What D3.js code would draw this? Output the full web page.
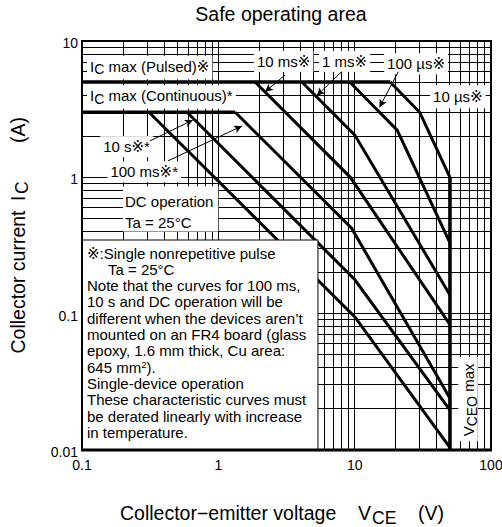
<!DOCTYPE html>
<html>
<head>
<meta charset="utf-8">
<script src="https://cdn.jsdelivr.net/npm/d3@7"></script>
<style>
  body { margin: 0; background: #fff; }
  svg { font-family: "Liberation Sans", Arial, "DejaVu Sans", sans-serif; }
</style>
</head>
<body>
<script>
// ---- data (V in volts, I in amps) ----
var xTicks = [0.1, 1, 10, 100],
    xTickLabels = ["0.1", "1", "10", "100"];
var yTicks = [0.01, 0.1, 1, 10],
    yTickLabels = ["0.01", "0.1", "1", "10"];

var icPulsed = [[0.1, 5], [18.2, 5]];
var icContinuous = [[0.1, 3], [1.33, 3]];
var vceoMax = [[50, 1], [50, 0.01]];

var curveDC    = [[0.31, 3], [10, 0.095], [50, 0.0104]];
var curve10s   = [[0.59, 3], [10, 0.178], [50, 0.0196]];
var curve100ms = [[1.33, 3], [9.5, 0.423], [50, 0.024]];
var curve10ms  = [[1.86, 5], [9.3, 1.0], [50, 0.083]];
var curve1ms   = [[4.1, 5], [10, 2.05], [50, 0.137]];
var curve100us = [[9.2, 5], [20.5, 2.22], [50, 0.33]];
var curve10us  = [[18.2, 5], [30, 3], [50, 1]];
var curves = [curveDC, curve10s, curve100ms, curve10ms, curve1ms, curve100us, curve10us];

// annotation arrows: [from, to] in data units
var arrows = [
  [[0.315, 1.85], [0.65, 2.63]],   // 10 s
  [[0.427, 1.32], [1.49, 2.38]],   // 100 ms
  [[3.08, 5.63], [2.2, 4.23]],     // 10 ms
  [[8.03, 5.95], [5.27, 3.97]],    // 1 ms
  [[20.9, 5.95], [15.2, 3.26]]     // 100 us
];

var noteLines = [
  "※:Single nonrepetitive pulse",
  "Ta = 25°C",
  "Note that the curves for 100 ms,",
  "10 s and DC operation will be",
  "different when the devices aren\u2019t",
  "mounted on an FR4 board (glass",
  "epoxy, 1.6 mm thick, Cu area:",
  "645 mm",
  "Single-device operation",
  "These characteristic curves must",
  "be derated linearly with increase",
  "in temperature."
];

// ---- frame ----
var width = 502, height = 527;
var plotL = 82, plotT = 41, plotR = 491, plotB = 450;

var svg = d3.select("body").append("svg")
    .attr("width", width)
    .attr("height", height);

var x = d3.scaleLog().domain([0.1, 100]).range([plotL, plotR]);
var y = d3.scaleLog().domain([0.01, 10]).range([plotB, plotT]);

var line = d3.line()
    .x(function(d){ return x(d[0]); })
    .y(function(d){ return y(d[1]); });

// grid
var grid = svg.append("g").attr("shape-rendering", "crispEdges");
grid.selectAll(".gx").data(x.ticks()).enter().append("line")
    .attr("x1", function(d){ return x(d); }).attr("x2", function(d){ return x(d); })
    .attr("y1", plotT).attr("y2", plotB)
    .attr("stroke", "#000")
    .attr("stroke-width", function(d){ return xTicks.indexOf(d) >= 0 ? 1.6 : 1; });
grid.selectAll(".gy").data(y.ticks()).enter().append("line")
    .attr("y1", function(d){ return y(d); }).attr("y2", function(d){ return y(d); })
    .attr("x1", plotL).attr("x2", plotR)
    .attr("stroke", "#000")
    .attr("stroke-width", function(d){ return yTicks.indexOf(d) >= 0 ? 1.6 : 1; });

// curves
svg.selectAll(".curve").data(curves).enter().append("path")
    .attr("d", line)
    .attr("fill", "none")
    .attr("stroke", "#000")
    .attr("stroke-width", 3)
    .attr("stroke-linejoin", "miter");

[icPulsed, icContinuous, vceoMax].forEach(function(d){
  svg.append("path").attr("d", line(d))
      .attr("fill", "none").attr("stroke", "#000").attr("stroke-width", 3.6);
});

// white boxes over the grid
function box(v0, i0, v1, i1, border){
  return svg.append("rect")
      .attr("x", x(v0)).attr("y", y(i0))
      .attr("width", x(v1) - x(v0)).attr("height", y(i1) - y(i0))
      .attr("fill", "#fff")
      .attr("stroke", border ? "#000" : "none")
      .attr("stroke-width", 1);
}

// label with optional subscript parts, and a white box behind it
function label(v, i, parts, anchor, padX, padY){
  var t = svg.append("text")
      .attr("x", x(v)).attr("y", y(i))
      .attr("text-anchor", anchor || "start")
      .attr("font-size", 15)
      .style("white-space", "pre");
  parts.forEach(function(p){
    var s = t.append("tspan").text(p[0]);
    if (p[1] === "sub") s.attr("dy", 2.5).attr("font-size", 14);
    if (p[1] === "back") s.attr("dy", -2.5);
  });
  var b = t.node().getBBox();
  svg.insert("rect", function(){ return t.node(); })
      .attr("x", b.x - (padX || 3)).attr("y", b.y - (padY || 2))
      .attr("width", b.width + 2 * (padX || 3)).attr("height", b.height + 2 * (padY || 2))
      .attr("fill", "#fff");
  return t;
}

label(0.1145, 5.95, [["I"], ["C", "sub"], [" max (Pulsed)※", "back"]], "start", 3, 2);
label(0.1145, 3.62, [["I"], ["C", "sub"], [" max (Continuous)*", "back"]], "start", 3, 2);
label(0.315, 1.53, [["10 s※*"]], "end", 3, 2);
label(0.506, 1.0, [["100 ms※*"]], "end", 3, 2);
label(1.92, 6.45, [["10 ms※"]], "start", 3, 2);
label(5.76, 6.45, [["1 ms※"]], "start", 3, 2);
label(17.3, 6.2, [["100 µs※"]], "start", 3, 2);
label(37.6, 3.55, [["10 µs※"]], "start", 3, 3);

// DC operation box
box(0.2, 0.86, 1.0, 0.4, false);
svg.append("text").attr("x", x(0.2) + 2).attr("y", y(0.6) - 1)
    .attr("font-size", 15).text("DC operation");
svg.append("text").attr("x", x(0.2) + 2).attr("y", y(0.41) - 2)
    .attr("font-size", 15).text("Ta = 25°C");

// note box
box(0.1, 0.347, 5.38, 0.01, true);
var note = svg.append("g").attr("font-size", 15);
noteLines.forEach(function(s, k){
  var ty = y(0.347) + 18.5 + k * 16.3;
  var tx = plotL + 5;
  if (k === 1) tx = plotL + 26;
  var t = note.append("text").attr("x", tx).attr("y", ty).style("white-space", "pre");
  if (k === 7) {
    t.append("tspan").text(s);
    t.append("tspan").attr("font-size", 9.5).attr("dy", -5).text("2");
    t.append("tspan").attr("dy", 5).text(").");
  } else {
    t.text(s);
  }
});

// VCEO max box + rotated label
box(57.5, 0.048, 80, 0.0116, false);
var vl = svg.append("text")
    .attr("transform", "translate(" + (x(68) + 6) + "," + y(0.0233) + ") rotate(-90)")
    .attr("text-anchor", "middle")
    .attr("font-size", 15)
    .style("white-space", "pre");
vl.append("tspan").text("V");
vl.append("tspan").attr("dy", 2.5).attr("font-size", 14).text("CEO");
vl.append("tspan").attr("dy", -2.5).text(" max");

// arrows
svg.append("defs").append("marker")
    .attr("id", "head")
    .attr("viewBox", "0 0 10 10")
    .attr("refX", 10).attr("refY", 5)
    .attr("markerWidth", 11).attr("markerHeight", 8)
    .attr("markerUnits", "userSpaceOnUse")
    .attr("orient", "auto")
  .append("path").attr("d", "M0,0 L10,5 L0,10 L2.5,5 Z").attr("fill", "#000");

svg.selectAll(".arrow").data(arrows).enter().append("line")
    .attr("x1", function(d){ return x(d[0][0]); })
    .attr("y1", function(d){ return y(d[0][1]); })
    .attr("x2", function(d){ return x(d[1][0]); })
    .attr("y2", function(d){ return y(d[1][1]); })
    .attr("stroke", "#000").attr("stroke-width", 1)
    .attr("marker-end", "url(#head)");

// frame
svg.append("rect").attr("x", plotL).attr("y", plotT)
    .attr("width", plotR - plotL).attr("height", plotB - plotT)
    .attr("fill", "none").attr("stroke", "#000").attr("stroke-width", 2);
svg.append("line").attr("x1", plotL - 1).attr("x2", plotR + 1)
    .attr("y1", plotB).attr("y2", plotB)
    .attr("stroke", "#000").attr("stroke-width", 3.2);

// tick labels
svg.selectAll(".xl").data(xTicks).enter().append("text")
    .attr("x", function(d){ return x(d); })
    .attr("y", plotB + 20)
    .attr("text-anchor", "middle")
    .attr("font-size", 14)
    .text(function(d, k){ return xTickLabels[k]; });
svg.selectAll(".yl").data(yTicks).enter().append("text")
    .attr("x", plotL - 4)
    .attr("y", function(d){ return y(d) + 7; })
    .attr("text-anchor", "end")
    .attr("font-size", 14)
    .text(function(d, k){ return yTickLabels[k]; });

// title
svg.append("text").attr("x", 281).attr("y", 21)
    .attr("text-anchor", "middle").attr("font-size", 19.5)
    .text("Safe operating area");

// x axis label
var xa = svg.append("g").attr("font-size", 19.5);
xa.append("text").attr("x", 120).attr("y", 520).text("Collector\u2212emitter voltage");
xa.append("text").attr("x", 358).attr("y", 520).text("V");
xa.append("text").attr("x", 372).attr("y", 524).attr("font-size", 17.5).text("CE");
xa.append("text").attr("x", 418).attr("y", 520).text("(V)");

// y axis label
var ya = svg.append("g").attr("font-size", 19.5);
ya.append("text").attr("transform", "translate(25,282) rotate(-90)")
    .attr("text-anchor", "middle").text("Collector current");
ya.append("text").attr("transform", "translate(25,201) rotate(-90)").text("I");
ya.append("text").attr("transform", "translate(28,194) rotate(-90)")
    .attr("font-size", 17.5).text("C");
ya.append("text").attr("transform", "translate(25,130) rotate(-90)")
    .attr("text-anchor", "middle").text("(A)");
</script>
</body>
</html>
